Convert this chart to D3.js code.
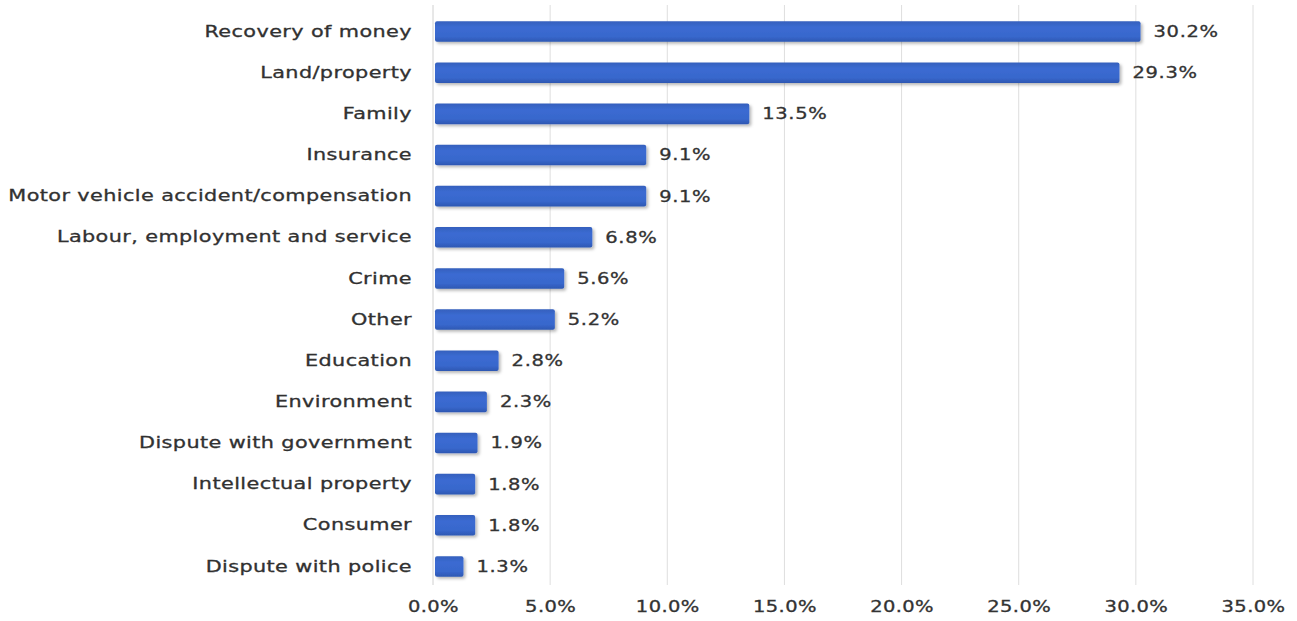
<!DOCTYPE html>
<html>
<head>
<meta charset="utf-8">
<script src="https://cdn.jsdelivr.net/npm/d3@7"></script>
<style>
  body { margin: 0; background: #fff; }
  svg text { font-family: "DejaVu Sans", Verdana, sans-serif; fill: #333; }
</style>
</head>
<body>
<svg width="1297" height="621"></svg>
<script>
const categories = [
    'Recovery of money', 'Land/property', 'Family', 'Insurance',
    'Motor vehicle accident/compensation', 'Labour, employment and service',
    'Crime', 'Other', 'Education', 'Environment', 'Dispute with government',
    'Intellectual property', 'Consumer', 'Dispute with police'
];
const values = [30.2, 29.3, 13.5, 9.1, 9.1, 6.8, 5.6, 5.2, 2.8, 2.3, 1.9, 1.8, 1.8, 1.3];
const tickValues = [0, 5, 10, 15, 20, 25, 30, 35];

const svg = d3.select('svg');
const plotLeft = 433, plotRight = 1253, plotTop = 11, plotBottom = 587;
const stretch = 1.3; // the source text is drawn wide

const x = d3.scaleLinear().domain([0, 35]).range([plotLeft, plotRight]);
const y = d3.scaleBand().domain(categories).range([plotTop, plotBottom])
    .paddingInner(0.5).paddingOuter(0.25);

// bar gradient + shadow
const defs = svg.append('defs');
const grad = defs.append('linearGradient').attr('id', 'barGrad')
    .attr('x1', 0).attr('y1', 0).attr('x2', 0).attr('y2', 1);
grad.append('stop').attr('offset', '0%').attr('stop-color', '#3560bd');
grad.append('stop').attr('offset', '30%').attr('stop-color', '#3b6bd2');
grad.append('stop').attr('offset', '75%').attr('stop-color', '#3867cc');
grad.append('stop').attr('offset', '100%').attr('stop-color', '#2d57b2');
const shadow = defs.append('filter').attr('id', 'shadow')
    .attr('x', '-10%').attr('y', '-30%').attr('width', '130%').attr('height', '180%');
shadow.append('feDropShadow').attr('dx', 2).attr('dy', 2).attr('stdDeviation', 1.8)
    .attr('flood-color', '#000').attr('flood-opacity', 0.28);

// gridlines
svg.append('g').selectAll('line')
    .data(tickValues)
    .enter().append('line')
    .attr('x1', d => x(d)).attr('x2', d => x(d))
    .attr('y1', plotTop - 6).attr('y2', plotBottom - 2)
    .attr('stroke', d => d === 0 ? '#d0d0d0' : '#dedede')
    .attr('stroke-width', 1);

// bars
svg.append('g').selectAll('rect')
    .data(values)
    .enter().append('rect')
    .attr('x', x(0) + 2)
    .attr('y', (d, i) => y(categories[i]))
    .attr('width', d => x(d) - x(0) - 2)
    .attr('height', y.bandwidth())
    .attr('rx', 2)
    .attr('fill', 'url(#barGrad)')
    .attr('filter', 'url(#shadow)');

// value labels
svg.append('g').selectAll('text')
    .data(values)
    .enter().append('text')
    .attr('transform', (d, i) =>
        `translate(${x(d) + 13},${y(categories[i]) + y.bandwidth() / 2}) scale(${stretch},1)`)
    .attr('dy', '0.36em')
    .attr('font-size', 15)
    .attr('letter-spacing', 0.5)
    .attr('stroke', '#333').attr('stroke-width', 0.3)
    .text(d => d.toFixed(1) + '%');

// category labels
const yAxis = svg.append('g')
    .attr('transform', `translate(${plotLeft - 21},0)`)
    .call(d3.axisLeft(y).tickSize(0).tickPadding(0));
yAxis.select('.domain').remove();
yAxis.selectAll('text')
    .attr('transform', `scale(${stretch},1)`)
    .attr('font-size', 16)
    .attr('letter-spacing', 0.3)
    .attr('stroke', '#2a2a2a').attr('stroke-width', 0.3)
    .style('font-family', '"DejaVu Sans", Verdana, sans-serif')
    .attr('fill', '#2a2a2a');

// x axis labels
const xAxis = svg.append('g')
    .attr('transform', `translate(0,${plotBottom + 14})`)
    .call(d3.axisBottom(x).tickValues(tickValues).tickSize(0).tickPadding(0)
        .tickFormat(d => d.toFixed(1) + '%'));
xAxis.select('.domain').remove();
xAxis.selectAll('text')
    .attr('transform', `scale(${stretch},1)`)
    .attr('font-size', 15)
    .attr('letter-spacing', 0.3)
    .attr('stroke', '#333').attr('stroke-width', 0.3)
    .style('font-family', '"DejaVu Sans", Verdana, sans-serif')
    .attr('fill', '#333');
</script>
</body>
</html>
